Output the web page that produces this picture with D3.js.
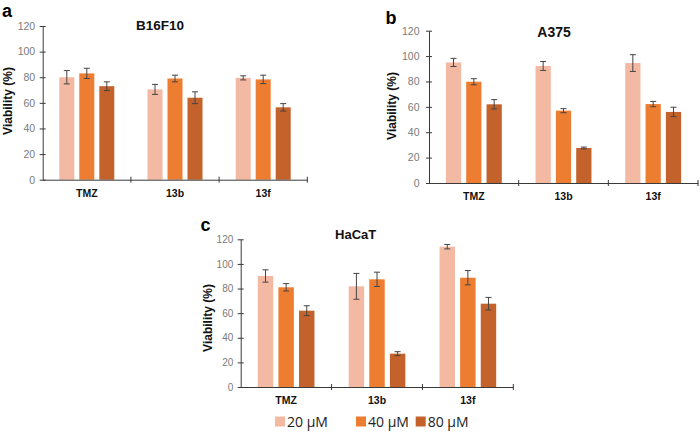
<!DOCTYPE html>
<html>
<head>
<meta charset="utf-8">
<script src="https://cdn.jsdelivr.net/npm/d3@7"></script>
<style>
  html, body { margin: 0; padding: 0; background: #fff; }
  svg { display: block; }
</style>
</head>
<body>
<svg id="chart" width="700" height="432"></svg>
<script>
// ---- Data ----
const categories = ["TMZ", "13b", "13f"];
const seriesNames = ["20 μM", "40 μM", "80 μM"];
const yTicks = [0, 20, 40, 60, 80, 100, 120];

// B16F10 values [series][category] and errors
const b16f10Values = [[80, 70.5, 79.5], [83, 79, 78.3], [73, 64, 56.5]];
const b16f10Errors = [[5.2, 3.9, 1.6], [4, 2.6, 3.3], [3.4, 4.6, 2.9]];
// A375
const a375Values = [[95, 92.2, 94.5], [79.8, 57, 62.2], [62, 27.6, 56]];
const a375Errors = [[3.2, 3.5, 6.6], [2.4, 1.6, 2.1], [3.7, 0.7, 3.7]];
// HaCaT
const hacatValues = [[90.2, 81.8, 114], [81, 87.5, 88.8], [62, 27.1, 67.7]];
const hacatErrors = [[5, 10.5, 1.8], [3, 5.8, 5.8], [4, 1.6, 5.1]];

const colors = ["#F4B9A2", "#ED7D31", "#C4622B"];
const axisColor = "#3a3a3a";

const svg = d3.select("#chart");

const panels = [
  { letter: "a", title: "B16F10", values: b16f10Values, errors: b16f10Errors,
    x0: 42.7, x1: 307.3, yTop: 26, yBot: 179.7,
    letterPos: [2, 16.5], titlePos: [160, 29.5], titleSize: 13.5,
    yLabelPos: [7.7, 101], tickGap: 7.5, tickSize: 10.5, xLabelY: 197 },
  { letter: "b", title: "A375", values: a375Values, errors: a375Errors,
    x0: 429, x1: 698, yTop: 30.7, yBot: 183,
    letterPos: [385.5, 23.5], titlePos: [554, 37.3], titleSize: 14,
    yLabelPos: [391.7, 106], tickGap: 9.5, tickSize: 10.5, xLabelY: 199.5 },
  { letter: "c", title: "HaCaT", values: hacatValues, errors: hacatErrors,
    x0: 240.7, x1: 513.3, yTop: 239.3, yBot: 387,
    letterPos: [200.5, 230.7], titlePos: [355.7, 239.3], titleSize: 13,
    yLabelPos: [207.5, 318], tickGap: 7.4, tickSize: 10, xLabelY: 403.5 }
];

panels.forEach(p => {
  const g = svg.append("g");
  const x = d3.scaleBand().domain(categories).range([p.x0, p.x1]).padding(0);
  const xs = d3.scaleBand().domain(d3.range(seriesNames.length))
    .range([0, x.bandwidth()]).paddingInner(0.25).paddingOuter(0.83);
  const y = d3.scaleLinear().domain([0, 120]).range([p.yBot, p.yTop]);

  // bars
  seriesNames.forEach((s, si) => {
    categories.forEach((c, ci) => {
      const v = p.values[si][ci];
      g.append("rect")
        .attr("x", x(c) + xs(si))
        .attr("y", y(v))
        .attr("width", xs.bandwidth())
        .attr("height", y(0) - y(v))
        .attr("fill", colors[si]);
    });
  });

  // error bars
  seriesNames.forEach((s, si) => {
    categories.forEach((c, ci) => {
      const v = p.values[si][ci], e = p.errors[si][ci];
      const cx = x(c) + xs(si) + xs.bandwidth() / 2;
      const eg = g.append("g").attr("stroke", "#444").attr("stroke-width", 1);
      eg.append("line").attr("x1", cx).attr("x2", cx).attr("y1", y(v + e)).attr("y2", y(v - e));
      eg.append("line").attr("x1", cx - 3).attr("x2", cx + 3).attr("y1", y(v + e)).attr("y2", y(v + e));
      eg.append("line").attr("x1", cx - 3).attr("x2", cx + 3).attr("y1", y(v - e)).attr("y2", y(v - e));
    });
  });

  // y axis
  const yAxis = d3.axisLeft(y).tickValues(yTicks).tickSize(0).tickPadding(p.tickGap);
  const ya = g.append("g").attr("transform", `translate(${p.x0},0)`).call(yAxis);
  ya.select(".domain").attr("stroke", axisColor);
  ya.selectAll(".tick text").attr("fill", "#7a7a7a")
    .style("font-family", "Arial, 'Liberation Sans', sans-serif")
    .style("font-size", p.tickSize + "px");
  ya.selectAll(".tick").append("line")
    .attr("x1", -3).attr("x2", 3).attr("stroke", axisColor);

  // x axis
  const xAxis = d3.axisBottom(x).tickSize(0).tickPadding(0);
  const xa = g.append("g").attr("transform", `translate(0,${p.yBot})`).call(xAxis);
  xa.select(".domain").attr("stroke", axisColor);
  xa.selectAll(".tick text")
    .attr("y", p.xLabelY - p.yBot).attr("dy", null)
    .attr("fill", "#111")
    .style("font-family", "Arial, 'Liberation Sans', sans-serif")
    .style("font-size", "10.5px").style("font-weight", "bold");
  // boundary ticks
  const bounds = categories.map(c => x(c) + x.bandwidth());
  xa.selectAll(".btick").data(bounds).enter().append("line")
    .attr("x1", d => d).attr("x2", d => d).attr("y1", -3).attr("y2", 3)
    .attr("stroke", axisColor);

  // title
  g.append("text").attr("x", p.titlePos[0]).attr("y", p.titlePos[1])
    .attr("text-anchor", "middle")
    .style("font-family", "Arial, 'Liberation Sans', sans-serif")
    .style("font-size", p.titleSize + "px").style("font-weight", "bold")
    .attr("fill", "#111").text(p.title);

  // panel letter
  g.append("text").attr("x", p.letterPos[0]).attr("y", p.letterPos[1])
    .style("font-family", "Arial, 'Liberation Sans', sans-serif")
    .style("font-size", "18px").style("font-weight", "bold")
    .attr("fill", "#000").text(p.letter);

  // y label
  g.append("text")
    .attr("transform", `translate(${p.yLabelPos[0]},${p.yLabelPos[1]}) rotate(-90)`)
    .attr("text-anchor", "middle").attr("dy", "0.35em")
    .style("font-family", "Arial, 'Liberation Sans', sans-serif")
    .style("font-size", "12px").style("font-weight", "bold")
    .attr("fill", "#111").text("Viability (%)");
});

// legend
const legendX = [275, 356, 415.7];
const lg = svg.append("g");
seriesNames.forEach((s, i) => {
  lg.append("rect").attr("x", legendX[i]).attr("y", 416.5).attr("width", 10).attr("height", 10)
    .attr("fill", colors[i]);
  lg.append("text").attr("x", legendX[i] + 12).attr("y", 426.5)
    .style("font-family", "'Open Sans', sans-serif").style("font-size", "14px")
    .attr("fill", "#222").text(s);
});
</script>
</body>
</html>
